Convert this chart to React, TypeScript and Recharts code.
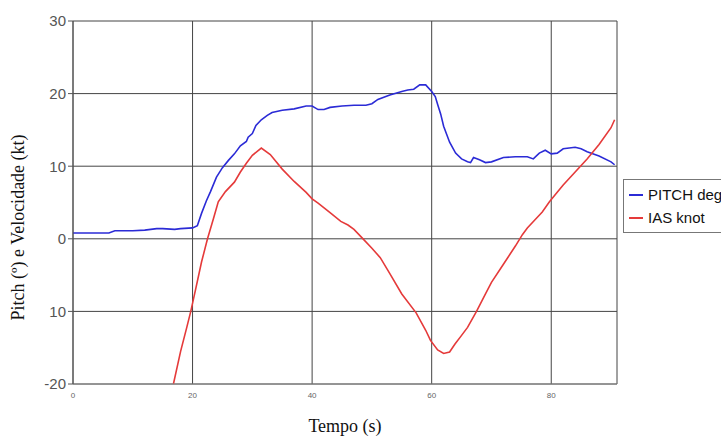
import { LineChart, Line, XAxis, YAxis, CartesianGrid } from 'recharts';

/* -------------------------------------------------------------------------- */
/*  Data                                                                      */
/* -------------------------------------------------------------------------- */

const pitchTime = [
  0, 3, 6, 7, 10, 12, 14, 15, 17, 18, 20, 20.8, 21.5, 22.3, 23, 24, 25, 26, 27, 28, 29, 29.3,
  30, 30.6, 31.5, 32.5, 33.3, 35, 37, 39, 40, 41, 42, 43, 45, 47, 49, 50, 51, 53, 55, 56,
  57, 58, 59, 60, 60.6, 61, 61.5, 62, 63, 64, 65, 66, 66.5, 67, 68, 69, 70, 72, 74, 76,
  77, 78, 79, 80, 81, 82, 84, 85, 86, 88, 90, 90.6,
];
const pitchDeg = [
  0.8, 0.8, 0.8, 1.1, 1.1, 1.2, 1.4, 1.4, 1.3, 1.4, 1.5, 1.8, 3.5, 5.2, 6.5, 8.5, 9.8, 10.8, 11.7, 12.8, 13.4, 14,
  14.5, 15.6, 16.4, 17, 17.4, 17.7, 17.9, 18.3, 18.3, 17.8, 17.8, 18.1, 18.3, 18.4, 18.4, 18.6, 19.2, 19.8, 20.3, 20.5,
  20.6, 21.2, 21.2, 20.3, 19.6, 18.5, 17.2, 15.5, 13.3, 11.8, 11, 10.6, 10.5, 11.2, 10.9, 10.5, 10.6, 11.2, 11.3, 11.3,
  11, 11.8, 12.2, 11.7, 11.8, 12.4, 12.6, 12.4, 12, 11.4, 10.6, 10.2,
];

const iasTime = [
  16.8, 18, 19, 19.7, 20.5, 21.5, 22.5, 23.5, 24.3, 25.5, 27, 28, 29, 30, 31.5, 33, 35, 37, 39, 40, 41,
  43, 44.8, 46, 47, 48.4, 50, 51.4, 53, 55, 57.4, 59, 59.8, 61, 62, 63, 63.9, 65, 66, 67.5, 69,
  70, 72, 74, 75.2, 76, 77.6, 78.5, 79.7, 81, 82, 84, 86, 88, 90, 90.6,
];
const iasKnot = [
  -20, -15.5, -12.3, -10, -7, -3.2, 0, 2.8, 5.1, 6.5, 7.8, 9.2, 10.4, 11.5, 12.5, 11.6, 9.6, 7.9, 6.4, 5.5, 4.9,
  3.6, 2.4, 1.9, 1.3, 0.1, -1.3, -2.6, -4.8, -7.6, -10.2, -12.6, -14, -15.3, -15.8, -15.6, -14.5, -13.3, -12.2, -10, -7.6,
  -6, -3.5, -1, 0.6, 1.5, 2.9, 3.7, 5.1, 6.4, 7.4, 9.2, 11, 13, 15.3, 16.4,
];

const xTicks = [0, 20, 40, 60, 80, 91];
const yTicks = [-20, -10, 0, 10, 20, 30];
const yTickLabels = ['-20', '10', '0', '10', '20', '30'];

const pitchData = pitchTime.map((t, i) => ({ t, v: pitchDeg[i] }));
const iasData = iasTime.map((t, i) => ({ t, v: iasKnot[i] }));

const series = [
  { name: 'PITCH deg', color: '#2b2bd6', data: pitchData },
  { name: 'IAS knot', color: '#e53a3a', data: iasData },
];

/* -------------------------------------------------------------------------- */
/*  Component                                                                 */
/* -------------------------------------------------------------------------- */

export default function App() {
  return (
    <div style={{ position: 'absolute', left: 0, top: 0, width: 721, height: 439, background: '#fff' }}>
      <LineChart
        width={721}
        height={439}
        margin={{ top: 21, right: 104, bottom: 0, left: 0 }}
      >
        <CartesianGrid stroke="#444" strokeWidth={1} />
        <XAxis
          type="number"
          dataKey="t"
          domain={[0, 91]}
          ticks={xTicks}
          tickFormatter={(v: number) => (v === 91 ? '' : String(v))}
          height={55}
          axisLine={{ stroke: '#888' }}
          tickLine={false}
          tick={{ fontSize: 8, fill: '#666', fontFamily: 'Liberation Sans, Arial, sans-serif' }}
          tickMargin={2}
          label={{
            value: 'Tempo (s)',
            position: 'insideBottom',
            offset: 7,
            style: { fontSize: 18, fill: '#111', fontFamily: 'Liberation Serif, Times New Roman, serif' },
          }}
        />
        <YAxis
          type="number"
          domain={[-20, 30]}
          ticks={yTicks}
          tickFormatter={(v: number) => yTickLabels[yTicks.indexOf(v)]}
          width={73}
          axisLine={{ stroke: '#555' }}
          tickLine={{ stroke: '#555' }}
          tickSize={5}
          tick={{ fontSize: 15, fill: '#555', fontFamily: 'Liberation Sans, Arial, sans-serif' }}
          allowDataOverflow
          label={{
            value: 'Pitch (º) e Velocidade (kt)',
            angle: -90,
            position: 'insideLeft',
            offset: 0,
            dx: 18,
            dy: 25,
            style: { textAnchor: 'middle', fontSize: 18, fill: '#111', fontFamily: 'Liberation Serif, Times New Roman, serif' },
          }}
        />
        {series.map((s) => (
          <Line
            key={s.name}
            data={s.data}
            dataKey="v"
            name={s.name}
            type="linear"
            stroke={s.color}
            strokeWidth={1.6}
            dot={false}
            isAnimationActive={false}
          />
        ))}
      </LineChart>
      <div
        style={{
          position: 'absolute',
          left: 623,
          top: 179,
          width: 110,
          height: 54,
          border: '1px solid #777',
          boxSizing: 'border-box',
          padding: '3px 0 0 5px',
          fontFamily: 'Liberation Sans, Arial, sans-serif',
          fontSize: 15,
          color: '#111',
        }}
      >
        {series.map((s) => (
          <div key={s.name} style={{ display: 'flex', alignItems: 'center', height: 23, whiteSpace: 'nowrap' }}>
            <span style={{ display: 'inline-block', width: 14, height: 2, background: s.color, marginRight: 5 }} />
            {s.name}
          </div>
        ))}
      </div>
    </div>
  );
}
